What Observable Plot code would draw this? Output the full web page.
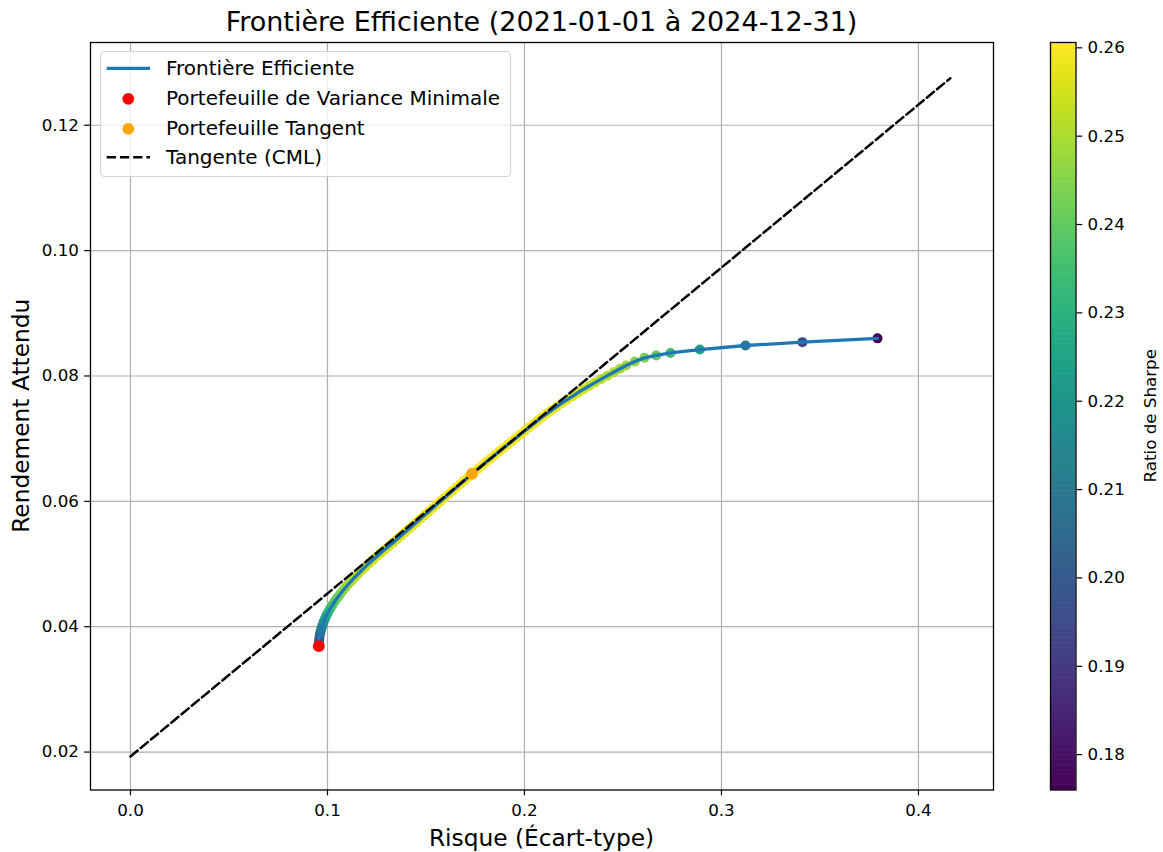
<!DOCTYPE html>
<html>
<head>
<meta charset="utf-8">
<script src="https://cdn.jsdelivr.net/npm/d3@7"></script>
<script src="https://cdn.jsdelivr.net/npm/@observablehq/plot@0.6"></script>
<style>
  body { margin: 0; background: #fff; }
  #fig { position: relative; width: 1163px; height: 852px; overflow: hidden; background: #fff; }
  #fig > svg { position: absolute; }
</style>
</head>
<body>
<div id="fig"></div>
<script>
// ---- Data ----
const frontierReturn = [
  0.0369, 0.03745, 0.0380, 0.03855, 0.0391, 0.03965, 0.0402, 0.04075, 0.0413, 0.04185,
  0.0424, 0.04295, 0.0435, 0.04405, 0.0446, 0.04515, 0.0457, 0.04625, 0.0468, 0.04735,
  0.0479, 0.04845, 0.049, 0.04955, 0.0501, 0.05065, 0.0512, 0.05175, 0.0523, 0.05285,
  0.0534, 0.05395, 0.0545, 0.05505, 0.0556, 0.05615, 0.0567, 0.05725, 0.0578, 0.05835,
  0.0589, 0.05945, 0.06, 0.06055, 0.0611, 0.06165, 0.0622, 0.06275, 0.0633, 0.06385,
  0.0644,
  0.0652, 0.06575, 0.0663, 0.06685, 0.0674, 0.06795, 0.0685, 0.06905, 0.0696, 0.07015,
  0.0707, 0.07125, 0.0718, 0.07235, 0.0729, 0.07345, 0.074, 0.07455, 0.0751, 0.07565,
  0.0762, 0.07675, 0.0773, 0.07785, 0.0784, 0.07895, 0.0795, 0.08005, 0.0806, 0.08115,
  0.08167, 0.08231, 0.0829, 0.08327, 0.08367, 0.08422, 0.08486, 0.0854, 0.086
];
const frontierRisk = [
  0.0956, 0.09565, 0.0958, 0.09605, 0.0964, 0.09684, 0.09739, 0.09803, 0.09876, 0.09958,
  0.10049, 0.10149, 0.10257, 0.10373, 0.10497, 0.1063, 0.10767, 0.10913, 0.11066, 0.11225,
  0.11391, 0.11562, 0.11739, 0.11921, 0.12109, 0.12301, 0.12499, 0.127, 0.12906, 0.13116,
  0.1333, 0.13531, 0.13731, 0.13932, 0.14132, 0.14333, 0.14533, 0.14734, 0.14934, 0.15135,
  0.15335, 0.15536, 0.15736, 0.15937, 0.16137, 0.16338, 0.16538, 0.16739, 0.16939, 0.1714,
  0.1734,
  0.1765, 0.1786, 0.1807, 0.1829, 0.185, 0.1872, 0.1893, 0.1915, 0.1937, 0.1959,
  0.198, 0.2002, 0.2024, 0.2046, 0.2068, 0.209, 0.2114, 0.2139, 0.2164, 0.2189,
  0.2215, 0.2243, 0.227, 0.2298, 0.2328, 0.2358, 0.2389, 0.2421, 0.2453, 0.2485,
  0.2516, 0.256, 0.2609, 0.2669, 0.2741, 0.289, 0.3122, 0.3411, 0.3792
];
const frontierSharpe = [
  0.1841, 0.1898, 0.1952, 0.2004, 0.2054, 0.2101, 0.2146, 0.2188, 0.2228, 0.2265,
  0.2299, 0.2330, 0.2359, 0.2386, 0.2410, 0.2432, 0.2452, 0.2470, 0.2485, 0.2499,
  0.2511, 0.2521, 0.2530, 0.2538, 0.2544, 0.2549, 0.2552, 0.2555, 0.2557, 0.2558,
  0.2558, 0.2561, 0.2564, 0.2566, 0.2569, 0.2571, 0.2573, 0.2576, 0.2578, 0.2580,
  0.2582, 0.2584, 0.2586, 0.2588, 0.2590, 0.2592, 0.2594, 0.2596, 0.2598, 0.2599,
  0.2601,
  0.2601, 0.2601, 0.2601, 0.2600, 0.2600, 0.2599, 0.2599, 0.2598, 0.2597, 0.2596,
  0.2596, 0.2595, 0.2594, 0.2593, 0.2592, 0.2591, 0.2588, 0.2583, 0.2579, 0.2574,
  0.2569, 0.2561, 0.2555, 0.2548, 0.2539, 0.2530, 0.2520, 0.2509, 0.2499, 0.2489,
  0.2479, 0.2461, 0.2438, 0.2397, 0.2348, 0.2246, 0.2100, 0.1938, 0.1759
];
const cmlRisk = [0, 0.4162];
const cmlReturn = [0.0193, 0.1275];
const minVarRisk = 0.0956, minVarReturn = 0.0369;
const tangentRisk = 0.1734, tangentReturn = 0.0644;
const sharpeRange = [0.1760, 0.2606];

const xTicks = [0, 0.1, 0.2, 0.3, 0.4];
const yTicks = [0.02, 0.04, 0.06, 0.08, 0.10, 0.12];
const cbTicks = [0.18, 0.19, 0.20, 0.21, 0.22, 0.23, 0.24, 0.25, 0.26];

const titleText = "Frontière Efficiente (2021-01-01 à 2024-12-31)";
const xLabel = "Risque (Écart-type)";
const yLabel = "Rendement Attendu";
const cbLabel = "Ratio de Sharpe";
const legendLabels = ["Frontière Efficiente", "Portefeuille de Variance Minimale", "Portefeuille Tangent", "Tangente (CML)"];

// ---- Tables ----
const n = Math.min(frontierReturn.length, frontierRisk.length, frontierSharpe.length);
const frontier = d3.range(n).map(i => ({risk: frontierRisk[i], ret: frontierReturn[i], sharpe: frontierSharpe[i]}));
const cml = cmlRisk.map((r, i) => ({risk: r, ret: cmlReturn[i]}));
const minVar = [{risk: minVarRisk, ret: minVarReturn}];
const tangent = [{risk: tangentRisk, ret: tangentReturn}];

const FONT = "DejaVu Sans, Liberation Sans, sans-serif";
const W = 1163, H = 852;
const AX = {left: 90, right: 993, top: 42, bottom: 789.5};

const main = Plot.plot({
  width: W, height: H,
  marginLeft: AX.left, marginRight: W - AX.right, marginTop: AX.top, marginBottom: H - AX.bottom,
  x: {domain: [-0.0203, 0.4381], axis: null},
  y: {domain: [0.01395, 0.1332], axis: null},
  color: {type: "linear", scheme: "viridis", domain: sharpeRange},
  style: {fontFamily: FONT, fontSize: "16.7px", color: "black", background: "transparent", overflow: "visible"},
  marks: [
    Plot.gridX(xTicks, {stroke: "#b0b0b0", strokeOpacity: 1, strokeWidth: 1.2}),
    Plot.gridY(yTicks, {stroke: "#b0b0b0", strokeOpacity: 1, strokeWidth: 1.2}),
    Plot.dot(frontier, {x: "risk", y: "ret", fill: "sharpe", r: 5}),
    Plot.line(frontier, {x: "risk", y: "ret", stroke: "#1f77b4", strokeWidth: 3.3}),
    Plot.line(cml, {x: "risk", y: "ret", stroke: "black", strokeWidth: 2.5, strokeDasharray: "9.25,4"}),
    Plot.dot(minVar, {x: "risk", y: "ret", fill: "red", r: 5.9}),
    Plot.dot(tangent, {x: "risk", y: "ret", fill: "orange", r: 5.9}),
    Plot.frame({stroke: "black", strokeWidth: 1.3}),
    Plot.axisX({ticks: xTicks, tickFormat: d3.format(".1f"), tickSize: 5.8, tickPadding: 8, strokeWidth: 1.2, label: null}),
    Plot.axisY({ticks: yTicks, tickFormat: d3.format(".2f"), tickSize: 5.8, tickPadding: 5.8, strokeWidth: 1.2, label: null})
  ]
});
main.style.left = "0px"; main.style.top = "0px";
document.getElementById("fig").appendChild(main);

// ---- Colorbar ----
const CB = {left: 1049, width: W - 1049, barW: 25.5};
const nSteps = 300;
const cbSteps = d3.range(nSteps).map(i => ({
  y1: sharpeRange[0] + (sharpeRange[1] - sharpeRange[0]) * i / nSteps,
  y2: sharpeRange[0] + (sharpeRange[1] - sharpeRange[0]) * (i + 1) / nSteps
}));
const cbar = Plot.plot({
  width: CB.width, height: H,
  marginLeft: 1, marginRight: CB.width - 1 - CB.barW, marginTop: AX.top, marginBottom: H - AX.bottom,
  x: {domain: [0, 1], axis: null},
  y: {domain: sharpeRange, axis: null},
  color: {type: "linear", scheme: "viridis", domain: sharpeRange},
  style: {fontFamily: FONT, fontSize: "16.7px", color: "black", background: "transparent", overflow: "visible"},
  marks: [
    Plot.rect(cbSteps, {x1: 0, x2: 1, y1: "y1", y2: "y2", fill: d => (d.y1 + d.y2) / 2, inset: 0, insetTop: -0.3, insetBottom: -0.3}),
    Plot.frame({stroke: "black", strokeWidth: 1.3}),
    Plot.axisY({anchor: "right", ticks: cbTicks, tickFormat: d3.format(".2f"), tickSize: 5.8, tickPadding: 5.8, strokeWidth: 1.2, label: null})
  ]
});
cbar.style.left = CB.left + "px"; cbar.style.top = "0px";
document.getElementById("fig").appendChild(cbar);

// ---- Titles, labels and legend ----
const ov = d3.create("svg").attr("width", W).attr("height", H)
  .style("left", "0px").style("top", "0px").style("font-family", FONT);
const cx = (AX.left + AX.right) / 2, cy = (AX.top + AX.bottom) / 2;
ov.append("text").attr("x", cx).attr("y", 31).attr("text-anchor", "middle")
  .attr("font-size", 27).attr("fill", "black").text(titleText);
ov.append("text").attr("x", cx).attr("y", 846).attr("text-anchor", "middle")
  .attr("font-size", 23.3).attr("fill", "black").text(xLabel);
ov.append("text").attr("transform", `translate(29,${cy}) rotate(-90)`).attr("text-anchor", "middle")
  .attr("font-size", 23.3).attr("fill", "black").text(yLabel);
ov.append("text").attr("transform", `translate(1155.5,${cy}) rotate(-90)`).attr("text-anchor", "middle")
  .attr("font-size", 16.7).attr("fill", "black").text(cbLabel);

const lg = ov.append("g");
lg.append("rect").attr("x", 100.5).attr("y", 51.5).attr("width", 410).attr("height", 125).attr("rx", 4)
  .attr("fill", "white").attr("fill-opacity", 0.8).attr("stroke", "#cccccc").attr("stroke-opacity", 0.8).attr("stroke-width", 1.2);
const rows = [68.3, 98.8, 128.8, 157.3];
lg.append("line").attr("x1", 106.7).attr("x2", 150).attr("y1", rows[0]).attr("y2", rows[0])
  .attr("stroke", "#1f77b4").attr("stroke-width", 3.3);
lg.append("circle").attr("cx", 128.3).attr("cy", rows[1]).attr("r", 5.9).attr("fill", "red");
lg.append("circle").attr("cx", 128.3).attr("cy", rows[2]).attr("r", 5.9).attr("fill", "orange");
lg.append("line").attr("x1", 106.7).attr("x2", 150).attr("y1", rows[3]).attr("y2", rows[3])
  .attr("stroke", "black").attr("stroke-width", 2.5).attr("stroke-dasharray", "9.25,4");
legendLabels.forEach((t, i) => {
  lg.append("text").attr("x", 166).attr("y", rows[i] + 6.5).attr("font-size", 20).attr("fill", "black").text(t);
});
document.getElementById("fig").appendChild(ov.node());
</script>
</body>
</html>
